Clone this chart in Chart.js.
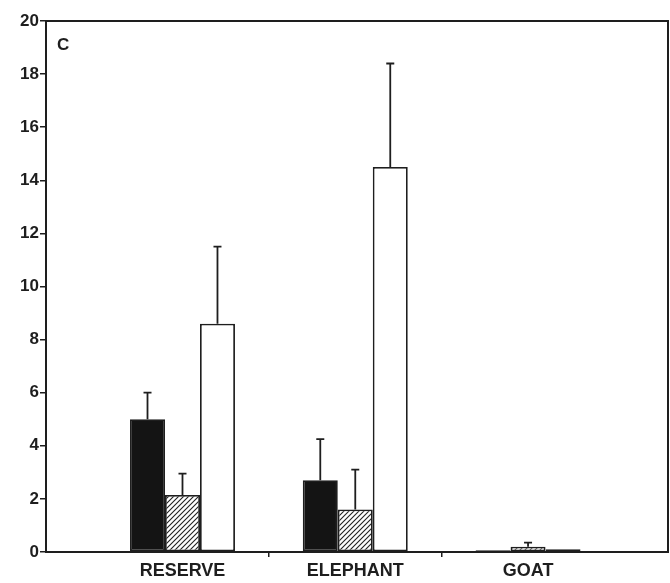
<!DOCTYPE html>
<html>
<head>
<meta charset="utf-8">
<script src="https://cdn.jsdelivr.net/npm/chart.js@4.4.1/dist/chart.umd.min.js"></script>
<style>
  html, body { margin: 0; padding: 0; background: #fff; }
  #wrap { width: 670px; height: 583px; }
</style>
</head>
<body>
<div id="wrap"><canvas id="chart" width="670" height="583"></canvas></div>
<script>
// Site categories and the three bar series (mean + upper error)
const categories = ["RESERVE", "ELEPHANT", "GOAT"];
const positions = [0, 1, 2];

const solidValues = [5.0, 2.7, 0.07];
const solidErrors = [1.0, 1.55, 0];

const hatchedValues = [2.15, 1.6, 0.2];
const hatchedErrors = [0.8, 1.5, 0.15];

const openValues = [8.6, 14.5, 0.1];
const openErrors = [2.9, 3.9, 0];

const yTicks = [0, 2, 4, 6, 8, 10, 12, 14, 16, 18, 20];
const xTicks = [0, 0.5, 1, 1.5, 2];

const INK = "#1e1e1e";

function hatchPattern() {
  const c = document.createElement("canvas");
  c.width = 5;
  c.height = 5;
  const g = c.getContext("2d");
  g.fillStyle = "#fff";
  g.fillRect(0, 0, 5, 5);
  g.strokeStyle = "#222";
  g.lineWidth = 1.1;
  g.beginPath();
  g.moveTo(-1, 6); g.lineTo(6, -1);
  g.moveTo(-1, 1); g.lineTo(1, -1);
  g.moveTo(4, 6); g.lineTo(6, 4);
  g.stroke();
  return g.createPattern(c, "repeat");
}

function toPoints(vals) {
  return vals.map((v, i) => ({ x: positions[i], y: v }));
}

const errorSets = [solidErrors, hatchedErrors, openErrors];
const valueSets = [solidValues, hatchedValues, openValues];

// error bars + frame + panel letter
const extras = {
  id: "extras",
  afterDatasetsDraw(chart) {
    const ctx = chart.ctx;
    const ys = chart.scales.y;
    const area = chart.chartArea;
    ctx.save();
    ctx.strokeStyle = INK;
    ctx.lineWidth = 1.8;
    chart.data.datasets.forEach((ds, di) => {
      const meta = chart.getDatasetMeta(di);
      meta.data.forEach((bar, j) => {
        const err = errorSets[di][j];
        if (!err) return;
        const yTop = ys.getPixelForValue(valueSets[di][j] + err);
        ctx.beginPath();
        ctx.moveTo(bar.x, bar.y);
        ctx.lineTo(bar.x, yTop);
        ctx.moveTo(bar.x - 4, yTop);
        ctx.lineTo(bar.x + 4, yTop);
        ctx.stroke();
      });
    });
    ctx.lineWidth = 2;
    ctx.strokeRect(area.left, area.top, area.right - area.left, area.bottom - area.top);
    ctx.fillStyle = INK;
    ctx.font = "bold 17px 'Liberation Sans', Arial, sans-serif";
    ctx.textBaseline = "top";
    ctx.fillText("C", area.left + 11, area.top + 16);
    ctx.restore();
  }
};

new Chart(document.getElementById("chart"), {
  type: "bar",
  data: {
    datasets: [
      {
        data: toPoints(solidValues),
        backgroundColor: "#141414",
        borderColor: INK,
        borderWidth: 1.8,
        borderSkipped: false
      },
      {
        data: toPoints(hatchedValues),
        backgroundColor: hatchPattern(),
        borderColor: INK,
        borderWidth: 1.8,
        borderSkipped: false
      },
      {
        data: toPoints(openValues),
        backgroundColor: "#fff",
        borderColor: INK,
        borderWidth: 1.8,
        borderSkipped: false
      }
    ]
  },
  options: {
    responsive: false,
    animation: false,
    categoryPercentage: 1.215,
    barPercentage: 1,
    layout: { padding: { top: 21, right: 2, left: 0, bottom: 0 } },
    plugins: {
      legend: { display: false },
      tooltip: { enabled: false }
    },
    scales: {
      x: {
        type: "linear",
        offset: false,
        min: -0.79,
        max: 2.81,
        afterBuildTicks: (scale) => { scale.ticks = xTicks.map(v => ({ value: v })); },
        afterFit: (scale) => { scale.height = 31; },
        border: { display: false },
        grid: {
          offset: false,
          drawOnChartArea: false,
          drawTicks: true,
          tickLength: 5,
          lineWidth: 1.5,
          tickColor: (c) => (c.tick && !Number.isInteger(c.tick.value)) ? INK : "rgba(0,0,0,0)"
        },
        ticks: {
          autoSkip: false,
          maxRotation: 0,
          padding: 3,
          color: INK,
          font: { family: "'Liberation Sans', Arial, sans-serif", size: 18, weight: "bold" },
          callback: (v) => Number.isInteger(v) ? categories[v] : ""
        }
      },
      y: {
        min: 0,
        max: 20,
        afterBuildTicks: (scale) => { scale.ticks = yTicks.map(v => ({ value: v })); },
        afterFit: (scale) => { scale.width = 46; },
        border: { display: false },
        grid: {
          drawOnChartArea: false,
          drawTicks: true,
          tickLength: 6,
          lineWidth: 1.5,
          tickColor: INK
        },
        ticks: {
          padding: 1,
          color: INK,
          font: { family: "'Liberation Sans', Arial, sans-serif", size: 17, weight: "bold" }
        }
      }
    }
  },
  plugins: [extras]
});
</script>
</body>
</html>
